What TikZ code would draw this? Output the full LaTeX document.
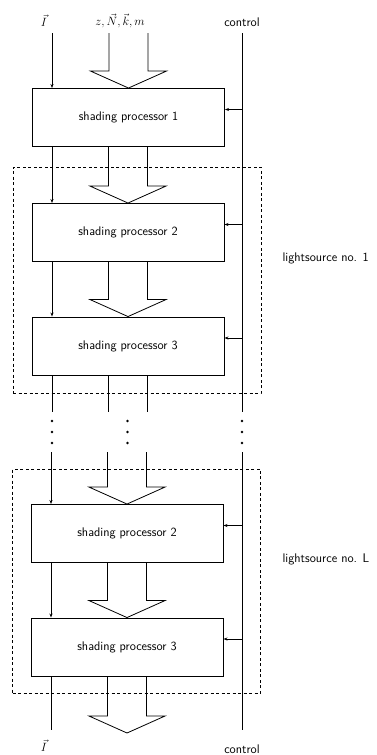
\documentclass[tikz,border=0pt]{standalone}
\usepackage{fontspec}
\usetikzlibrary{arrows.meta,calc}

% hollow block arrow: shaft from #1 down to the tip at #2
\newcommand\fatarrow[2]{%
  \draw[wire]
    ($(#2 |- #1)+(-19.5,0)$) -- ($(#2)+(-19.5,-17)$) -- ($(#2)+(-38,-17)$)
    -- (#2) -- ($(#2)+(38,-17)$) -- ($(#2)+(19.5,-17)$) -- ($(#2 |- #1)+(19.5,0)$);}

\begin{document}
\begin{tikzpicture}[x=1pt,y=-1pt,
  every node/.style={font=\sffamily\fontsize{12.5}{15}\selectfont},
  procbox/.style={draw,line width=0.9pt,minimum width=192pt,minimum height=58pt,inner sep=0pt},
  lsbox/.style={draw,line width=0.7pt,dash pattern=on 3pt off 2.5pt,minimum width=248pt,inner sep=0pt},
  wire/.style={line width=0.8pt},
  ctrl/.style={line width=1pt},
  sigarrow/.style={wire,-{Stealth[length=4pt,width=3pt]}}
]
\useasboundingbox (0,0) rectangle (376,755);

% processors
\node[procbox] (b1) at (128.5,117.5) {shading processor 1};
\node[procbox] (b2) at (128,232.5) {shading processor 2};
\node[procbox] (b3) at (128,346) {shading processor 3};
\node[procbox] (b4) at (127,533.5) {shading processor 2};
\node[procbox] (b5) at (127,647) {shading processor 3};

% light source groups
\node[lsbox,minimum height=226pt] (ls1) at (137,280) {};
\node[lsbox,minimum height=224pt] (ls2) at (136.5,581) {};
\node[anchor=west] (l1) at (279,258) {lightsource no. 1};
\node[anchor=west] (lL) at (279,559) {lightsource no. L};

% inputs and outputs
\node (iin) at (44,21) {$\vec{I}$};
\node (attr) at (120,21) {$z,\vec{N},\vec{k},m$};
\node (cin) at (242,22) {control};
\node (iout) at (44,746) {$\vec{I}$};
\node (cout) at (242,749) {control};

\coordinate (Itop) at (52,33);
\coordinate (Ibrk) at (52,412);
\coordinate (Ires) at (51,452);
\coordinate (Iend) at (51,730);
\coordinate (ctop) at (242,33);
\coordinate (cbrk) at (242,412);
\coordinate (cres) at (242,452);
\coordinate (cend) at (242,730);
\coordinate (atop) at (128,33);
\coordinate (abrk) at (128,412);
\coordinate (ares) at (127,452);
\coordinate (aend) at (127,733);

% intensity path
\draw[sigarrow] (Itop) -- (Itop |- b1.north);
\draw[sigarrow] (Itop |- b1.south) -- (Itop |- b2.north);
\draw[sigarrow] (Itop |- b2.south) -- (Itop |- b3.north);
\draw[wire] (Itop |- b3.south) -- (Ibrk);
\draw[sigarrow] (Ires) -- (Ires |- b4.north);
\draw[sigarrow] (Ires |- b4.south) -- (Ires |- b5.north);
\draw[wire] (Ires |- b5.south) -- (Iend);

% attribute path
\fatarrow{atop}{b1.north}
\fatarrow{b1.south}{b2.north}
\fatarrow{b2.south}{b3.north}
\draw[wire] ($(b3.south)+(-19.5,0)$) -- ($(abrk)+(-19.5,0)$);
\draw[wire] ($(b3.south)+(19.5,0)$) -- ($(abrk)+(19.5,0)$);
\fatarrow{ares}{b4.north}
\fatarrow{b4.south}{b5.north}
\fatarrow{b5.south}{aend}

% control bus
\draw[ctrl] (ctop) -- (cbrk);
\draw[ctrl] (cres) -- (cend);
\foreach \b in {b1,b2,b3,b4,b5}{
  \coordinate (\b c) at ($(\b.east)+(0,-8)$);
  \draw[sigarrow] (ctop |- \b c) -- (\b c);
}

% continuation dots
\foreach \y in {421,432,443}{
  \fill (52,\y) circle (1.3pt);
  \fill (127.5,\y) circle (1.3pt);
  \fill (242,\y) circle (1.3pt);
}
\end{tikzpicture}
\end{document}
